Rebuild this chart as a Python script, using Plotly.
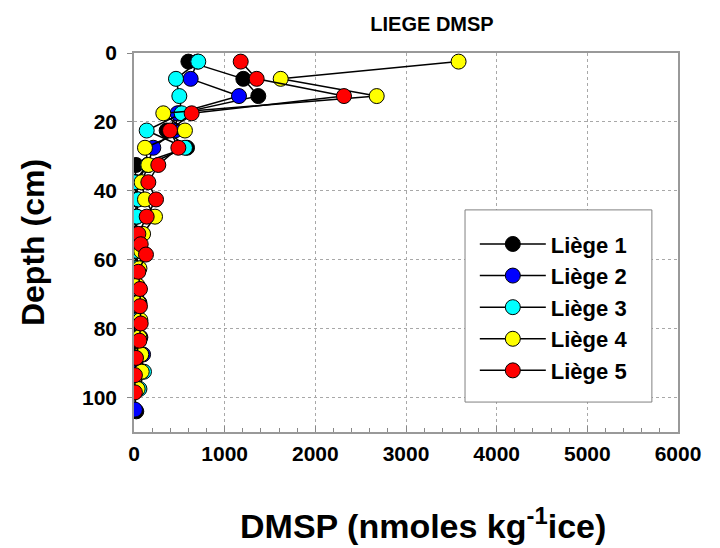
import plotly.graph_objects as go

# ---- data (DMSP in nmoles kg-1 ice vs depth in cm) ----
depth_1 = [2.5, 7.5, 12.5, 17.5, 22.5, 27.5, 32.5, 37.5, 42.5, 47.5, 52.5, 57.5, 62.5, 67.5, 72.5, 77.5, 82.5, 87.5, 92.5, 97.5, 104]
dmsp_1 = [600, 1206, 1371, 500, 360, 585, 22, 10, 25, 15, 10, 20, 15, 10, 20, 5, 10, 15, 10, 5, 25]

depth_2 = [2.5, 7.5, 12.5, 17.5, 22.5, 27.5, 32.5, 37.5, 42.5, 47.5, 52.5, 57.5, 62.5, 67.5, 72.5, 77.5, 82.5, 87.5, 92.5, 97.5, 103.5]
dmsp_2 = [700, 625, 1158, 480, 452, 213, 150, 30, 40, 30, 20, 40, 30, 25, 60, 30, 70, 100, 40, 20, 10]

depth_3 = [2.5, 7.5, 12.5, 17.5, 22.5, 27.5, 32.5, 37.5, 42.5, 47.5, 52.5, 57.5, 62.5, 67.5, 72.5, 77.5, 82.5, 87.5, 92.5, 97.5]
dmsp_3 = [709, 463, 500, 526, 140, 562, 150, 0, 48, 29, 30, 40, 20, 30, 40, 50, 60, 80, 110, 60]

depth_4 = [2.5, 7.5, 12.5, 17.5, 22.5, 27.5, 32.5, 37.5, 42.5, 47.5, 52.5, 57.5, 62.5, 67.5, 72.5, 77.5, 82.5, 87.5, 92.5, 97.5]
dmsp_4 = [3580, 1618, 2677, 323, 562, 121, 158, 84, 121, 232, 100, 80, 60, 40, 50, 70, 60, 80, 85, 40]

depth_5 = [2.5, 7.5, 12.5, 17.5, 22.5, 27.5, 32.5, 37.5, 42.5, 47.5, 52.5, 55.5, 58.5, 63.5, 68.5, 73.5, 78.5, 83.5, 88.5, 93.5, 98.5]
dmsp_5 = [1177, 1353, 2316, 636, 397, 489, 268, 158, 243, 140, 48, 74, 132, 48, 66, 66, 74, 59, 22, 10, 10]

series_names = ["Liège 1", "Liège 2", "Liège 3", "Liège 4", "Liège 5"]
series_colors = ["#000000", "#0000ff", "#00ffff", "#ffff00", "#ff0000"]
x_ticks = [0, 1000, 2000, 3000, 4000, 5000, 6000]
y_ticks = [0, 20, 40, 60, 80, 100]

depths = [depth_1, depth_2, depth_3, depth_4, depth_5]
values = [dmsp_1, dmsp_2, dmsp_3, dmsp_4, dmsp_5]

FONT = "Liberation Sans, Arial, sans-serif"

fig = go.Figure()
for name, col, d, v in zip(series_names, series_colors, depths, values):
    fig.add_trace(go.Scatter(
        x=v, y=d, name=name, legendgroup=name, mode="lines+markers",
        line=dict(color="black", width=1.5),
        marker=dict(size=15, color=col, line=dict(color="black", width=1)),
    ))

# legend frame (decoration)
fig.add_shape(type="rect", xref="paper", yref="paper",
              x0=0.6085, x1=0.952, y0=0.079, y1=0.586,
              fillcolor="white", line=dict(color="#808080", width=1), layer="above")

# x-axis title (placed as annotation to match the reference offset)
fig.add_annotation(text="<b>DMSP (nmoles kg<sup>-1</sup>ice)</b>", xref="paper", yref="paper",
                   x=0.531, y=-0.242, xanchor="center", yanchor="middle", showarrow=False,
                   font=dict(size=34, family=FONT, color="black"))

fig.update_layout(
    width=712, height=540,
    margin=dict(l=126, r=42, t=45, b=116, autoexpand=False),
    paper_bgcolor="white", plot_bgcolor="white",
    font=dict(family=FONT, color="black"),
    title=dict(text="<b>LIEGE DMSP</b>", x=0.5955, xanchor="center", y=0.970, yanchor="middle",
               font=dict(size=20, family=FONT, color="black")),
    legend=dict(x=0.6265, y=0.551, xanchor="left", yanchor="top",
                bgcolor="rgba(0,0,0,0)", borderwidth=0,
                font=dict(size=22, family=FONT, color="black", weight="bold"),
                itemwidth=66, tracegroupgap=0),
    showlegend=True,
)

fig.update_xaxes(
    range=[0, 6000], tickvals=x_ticks, ticktext=[f"<b>{t}</b>" for t in x_ticks],
    showgrid=True, gridcolor="#a8a8a8", griddash="dot", gridwidth=1,
    showline=True, linecolor="#999999", linewidth=1.5, mirror=True,
    ticks="inside", ticklen=6, tickcolor="#888888",
    minor=dict(dtick=200, ticks="inside", ticklen=4, tickcolor="#888888", showgrid=False),
    tickfont=dict(size=21, family=FONT, color="black"),
    ticklabelstandoff=2,
    zeroline=False, automargin=False,
)
fig.update_yaxes(
    range=[110, 0], tickvals=y_ticks, ticktext=[f"<b>{t}</b>" for t in y_ticks],
    showgrid=True, gridcolor="#a8a8a8", griddash="dot", gridwidth=1,
    showline=True, linecolor="#999999", linewidth=1.5, mirror=True,
    ticks="outside", ticklen=5, tickcolor="#888888",
    tickfont=dict(size=21, family=FONT, color="black"),
    ticklabelstandoff=6,
    zeroline=False, automargin=False,
    title=dict(text="<b>Depth (cm)</b>", standoff=28,
               font=dict(size=32, family=FONT, color="black")),
)

fig.write_html("out.html")
